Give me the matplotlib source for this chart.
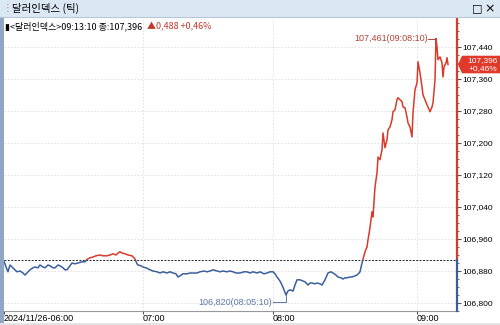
import matplotlib.pyplot as plt
from matplotlib.patches import Rectangle, Polygon

plt.rcParams['font.family'] = ['Liberation Sans', 'Noto Sans CJK KR', 'DejaVu Sans']

# === tick chart data (tick number, price) ===
tick_no = [0, 2, 4, 6, 8, 11, 13, 16, 19, 21, 24, 26, 29, 31, 34, 36, 39, 41, 44, 46,
           49, 51, 54, 56, 59, 61, 63, 66, 68, 71, 74, 78, 81, 83, 86, 89, 92, 96, 99, 103,
           106, 109, 112, 114, 116, 118, 121, 124, 128, 131, 133, 134, 137, 139, 142, 146, 149, 153, 156, 159,
           163, 166, 169, 172, 174, 176, 179, 183, 186, 189, 193, 196, 200, 203, 206, 209, 213, 216, 219, 223,
           226, 229, 232, 236, 240, 243, 246, 249, 253, 256, 260, 263, 266, 269, 271, 273, 276, 278, 280, 282,
           284, 286, 289, 291, 293, 296, 299, 301, 304, 306, 308, 311, 313, 316, 318, 321, 324, 327, 329, 332,
           334, 337, 339, 341, 343, 346, 348, 351, 353, 355, 356, 358, 359, 361, 363, 364, 366, 368, 369, 371,
           373, 374, 376, 378, 379, 381, 383, 384, 386, 388, 389, 391, 393, 394, 396, 398, 399, 401, 403, 404,
           406, 408, 409, 411, 413, 414, 416, 418, 419, 421, 423, 424, 426, 428, 429, 431, 432, 433, 434, 436,
           438, 439, 440, 442, 443, 444]
price = [106905, 106890, 106878, 106895, 106890, 106883, 106878, 106880, 106875, 106870, 106878, 106883, 106888, 106890, 106888, 106895, 106890, 106888, 106895, 106893,
         106888, 106888, 106895, 106893, 106888, 106883, 106883, 106893, 106900, 106898, 106900, 106903, 106903, 106909, 106913, 106915, 106918, 106920, 106918, 106918,
         106920, 106923, 106920, 106925, 106928, 106925, 106923, 106920, 106918, 106910, 106898, 106895, 106893, 106890, 106888, 106883, 106880, 106878, 106875, 106878,
         106875, 106878, 106875, 106873, 106865, 106868, 106873, 106873, 106875, 106875, 106875, 106878, 106880, 106878, 106880, 106883, 106880, 106878, 106880, 106878,
         106880, 106878, 106875, 106875, 106878, 106878, 106875, 106878, 106875, 106878, 106873, 106875, 106878, 106878, 106873, 106865, 106855, 106845, 106833, 106820,
         106830, 106833, 106830, 106845, 106858, 106858, 106855, 106853, 106845, 106850, 106850, 106848, 106850, 106848, 106845, 106858, 106875, 106878, 106875, 106870,
         106865, 106863, 106860, 106863, 106863, 106865, 106865, 106868, 106870, 106875, 106878, 106900, 106909, 106928, 106940, 106958, 106988, 107028, 107015, 107090,
         107125, 107165, 107158, 107183, 107225, 107188, 107208, 107233, 107240, 107258, 107278, 107283, 107308, 107313, 107308, 107303, 107290, 107288, 107265, 107250,
         107240, 107215, 107275, 107333, 107350, 107403, 107375, 107340, 107320, 107308, 107295, 107290, 107278, 107290, 107300, 107358, 107461, 107440, 107408, 107415,
         107400, 107365, 107390, 107400, 107413, 107396]

prev_close = 106908
y_ticks = [106800, 106880, 106960, 107040, 107120, 107200, 107280, 107360, 107440]
x_tick_pos = [0, 139, 269, 413]
x_tick_labels = ['2024/11/26-06:00', '07:00', '08:00', '09:00']

BLUE = '#3b5f9e'
RED = '#d93a2b'
KR = ['Noto Sans CJK KR', 'DejaVu Sans']

fig = plt.figure(figsize=(5, 3.25), dpi=100)
ax = fig.add_axes([0.008, 0.043, 0.906, 0.905])
x_max = 453
y_min, y_max = 106780, 107515
ax.set_xlim(0, x_max)
ax.set_ylim(y_min, y_max)

# header bar and window frame
fig.patches.append(Rectangle((0, 0.948), 1, 0.052, transform=fig.transFigure,
                             facecolor='#dbe7f3', edgecolor='none', zorder=0))
fig.lines.append(plt.Line2D([0, 1], [0.948, 0.948], transform=fig.transFigure, color='#b7c8da', lw=0.8))
fig.patches.append(Rectangle((0, 0), 0.007, 0.948, transform=fig.transFigure,
                             facecolor='#8fa6c4', edgecolor='none'))
fig.patches.append(Rectangle((0, 0), 1, 0.006, transform=fig.transFigure,
                             facecolor='#e4e4e4', edgecolor='none'))
fig.text(0.024, 0.974, '달러인덱스 (틱)', fontsize=7.5, va='center', ha='left', family=KR)
fig.text(0.006, 0.974, '⋮', fontsize=7, va='center', color='#999999', family=['DejaVu Sans'])
fig.text(0.955, 0.974, '□', fontsize=8, va='center', ha='center', family=['DejaVu Sans'])
fig.text(0.98, 0.974, '×', fontsize=9, va='center', ha='center', family=['DejaVu Sans'])

# grid
for yt in y_ticks:
    ax.axhline(yt, color='#dddddd', lw=0.6, ls=(0, (2, 2)), zorder=0)
for xt in x_tick_pos[1:]:
    ax.axvline(xt, color='#dddddd', lw=0.6, ls=(0, (2, 2)), zorder=0)

# previous close
ax.axhline(prev_close, color='#222222', lw=0.7, ls=(0, (2, 1.5)), zorder=1)

# price line: red above prev close, blue below
up, = ax.plot(tick_no, price, color=RED, lw=1.1, zorder=3)
dn, = ax.plot(tick_no, price, color=BLUE, lw=1.1, zorder=3)
up.set_clip_path(Rectangle((0, prev_close), x_max, y_max - prev_close, transform=ax.transData))
dn.set_clip_path(Rectangle((0, y_min), x_max, prev_close - y_min, transform=ax.transData))

# high / low annotations
hi_i = price.index(max(price))
lo_i = price.index(min(price))
ax.plot([tick_no[hi_i] - 8, tick_no[hi_i]], [price[hi_i], price[hi_i]], color='#b0453a', lw=0.7)
ax.text(tick_no[hi_i] - 8, price[hi_i], '107,461(09:08:10)', color='#b0453a', fontsize=6.5,
        ha='right', va='center')
ax.plot([tick_no[lo_i] - 13, tick_no[lo_i], tick_no[lo_i]], [106802, 106802, price[lo_i]],
        color='#5c7aa8', lw=0.7)
ax.text(tick_no[lo_i] - 14, 106802, '106,820(08:05:10)', color='#5c7aa8', fontsize=6.5,
        ha='right', va='center')

# info line
t1 = ax.text(0.002, 0.985, '▮<달러인덱스>09:13:10 종:107,396 ', transform=ax.transAxes,
             fontsize=6.5, va='top', ha='left', family=KR)
ax.annotate('▲0,488 +0,46%', xy=(1, 0), xycoords=t1, xytext=(2, 0), textcoords='offset points',
            fontsize=6.5, color='#c0392b', va='bottom', ha='left', family=KR)

# axes styling
for s in ['top', 'left', 'right']:
    ax.spines[s].set_visible(False)
ax.spines['bottom'].set_color('#999999')
ax.plot([x_max, x_max], [prev_close, y_max], color=RED, lw=1.6, clip_on=False, zorder=4)
ax.plot([x_max, x_max], [y_min, prev_close], color=BLUE, lw=1.6, clip_on=False, zorder=4)

ax.yaxis.tick_right()
ax.set_yticks(y_ticks)
ax.set_yticklabels([f'{v:,}' for v in y_ticks], fontsize=6)
ax.set_yticks(range(106780, 107515, 20), minor=True)
ax.tick_params(axis='y', which='major', length=3, pad=1, color='#555555')
ax.tick_params(axis='y', which='minor', length=1.5, color='#555555')
ax.set_xticks(x_tick_pos)
ax.set_xticklabels(x_tick_labels, fontsize=6.5, ha='left')
ax.tick_params(axis='x', length=2, pad=0, color='#555555')

# last price tag
last = price[-1]
ax.add_patch(Polygon([(x_max + 1, last), (x_max + 5, last + 22), (x_max + 48, last + 22),
                      (x_max + 48, last - 22), (x_max + 5, last - 22)], closed=True,
                     facecolor='#e0392a', edgecolor='none', clip_on=False, zorder=5))
ax.text(x_max + 26, last + 10, '107,396', color='white', fontsize=6, ha='center', va='center',
        clip_on=False, zorder=6)
ax.text(x_max + 26, last - 11, '+0,46%', color='white', fontsize=6, ha='center', va='center',
        clip_on=False, zorder=6)

fig.savefig('out.png', dpi=100)
